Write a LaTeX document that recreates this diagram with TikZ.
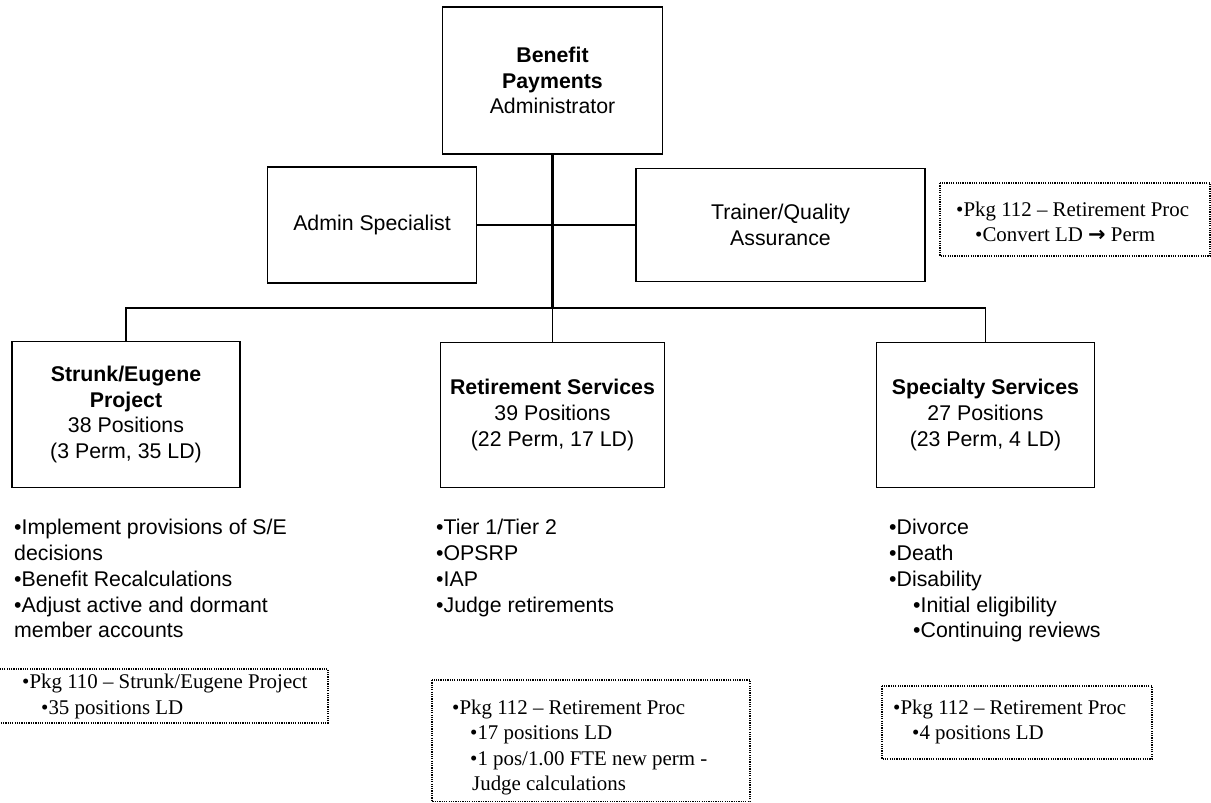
\documentclass[tikz,border=0pt]{standalone}
\usepackage{fontspec}
\setmainfont{Liberation Sans}
\newfontfamily\pkgserif{Liberation Serif}
\newfontfamily\arrowfont{DejaVu Sans}
\newcommand\boxfont{\fontsize{21.3}{25.8}\selectfont}
\newcommand\pkgfont{\pkgserif\fontsize{20.9}{25.4}\selectfont}
\begin{document}
\begin{tikzpicture}[x=1pt,y=-1pt,
  orgbox/.style={draw,line width=1.3pt,rectangle,inner sep=0pt,align=center,font=\boxfont},
  link/.style={line width=1.3pt},
  trunk/.style={line width=2.2pt},
  pkgframe/.style={line width=1.3pt,dash pattern=on 1.2pt off 1.1pt},
  pkgtext/.style={anchor=north west,inner sep=0pt,align=left,font=\pkgfont},
  duties/.style={anchor=north west,inner sep=0pt,align=left,font=\boxfont}]
\useasboundingbox (0,0) rectangle (1211,803);

% management boxes
\node[orgbox,minimum width=220pt,minimum height=147pt] (top) at (552.5,80.5)
  {\textbf{Benefit}\\\textbf{Payments}\\Administrator};
\node[orgbox,minimum width=209pt,minimum height=116pt] (adm) at (372,225)
  {Admin Specialist};
\node[orgbox,minimum width=289pt,minimum height=113pt] (trn) at (780.5,225)
  {Trainer/Quality\\Assurance};

% sections
\node[orgbox,minimum width=228pt,minimum height=146pt] (se) at (126,414.5)
  {\textbf{Strunk/Eugene}\\\textbf{Project}\\38 Positions\\(3 Perm, 35 LD)};
\node[orgbox,minimum width=224pt,minimum height=145pt] (ret) at (552.5,415)
  {\textbf{Retirement Services}\\39 Positions\\(22 Perm, 17 LD)};
\node[orgbox,minimum width=218pt,minimum height=145pt] (spec) at (985.5,415)
  {\textbf{Specialty Services}\\27 Positions\\(23 Perm, 4 LD)};

% connectors
\coordinate (busM) at (552.5,308);
\draw[trunk] (top.south) -- (busM);
\draw[link] (adm.east) -- (trn.west);
\draw[link] (se.north) |- (busM) -| (spec.north);
\draw[link] (busM) -- (ret.north);

% duties under each section
\node[duties] (seduty) at (14,519)
  {•Implement provisions of S/E\\decisions\\•Benefit Recalculations\\•Adjust active and dormant\\member accounts};
\node[duties] (retduty) at (436,519)
  {•Tier 1/Tier 2\\•OPSRP\\•IAP\\•Judge retirements};
\node[duties] (specduty) at (889,519)
  {•Divorce\\•Death\\•Disability\\\hspace*{24pt}•Initial eligibility\\\hspace*{24pt}•Continuing reviews};

% budget packages
\draw[pkgframe] (940,183) rectangle (1210,256);
\node[pkgtext] (pkgtop) at (956,201.5)
  {•Pkg 112 – Retirement Proc\\\hspace*{19pt}•Convert LD {\arrowfont\bfseries→} Perm};

\draw[pkgframe] (-5,669) rectangle (328,723);
\node[pkgtext] (pkgse) at (22,674)
  {•Pkg 110 – Strunk/Eugene Project\\\hspace*{19pt}•35 positions LD};

\draw[pkgframe] (432,680) rectangle (750,801.5);
\node[pkgtext] (pkgret) at (452,699.5)
  {•Pkg 112 – Retirement Proc\\\hspace*{18pt}•17 positions LD\\\hspace*{18pt}•1 pos/1.00 FTE new perm -\\\hspace*{20pt}Judge calculations};

\draw[pkgframe] (882,686) rectangle (1152,759);
\node[pkgtext] (pkgspec) at (893,699.5)
  {•Pkg 112 – Retirement Proc\\\hspace*{19pt}•4 positions LD};
\end{tikzpicture}
\end{document}
